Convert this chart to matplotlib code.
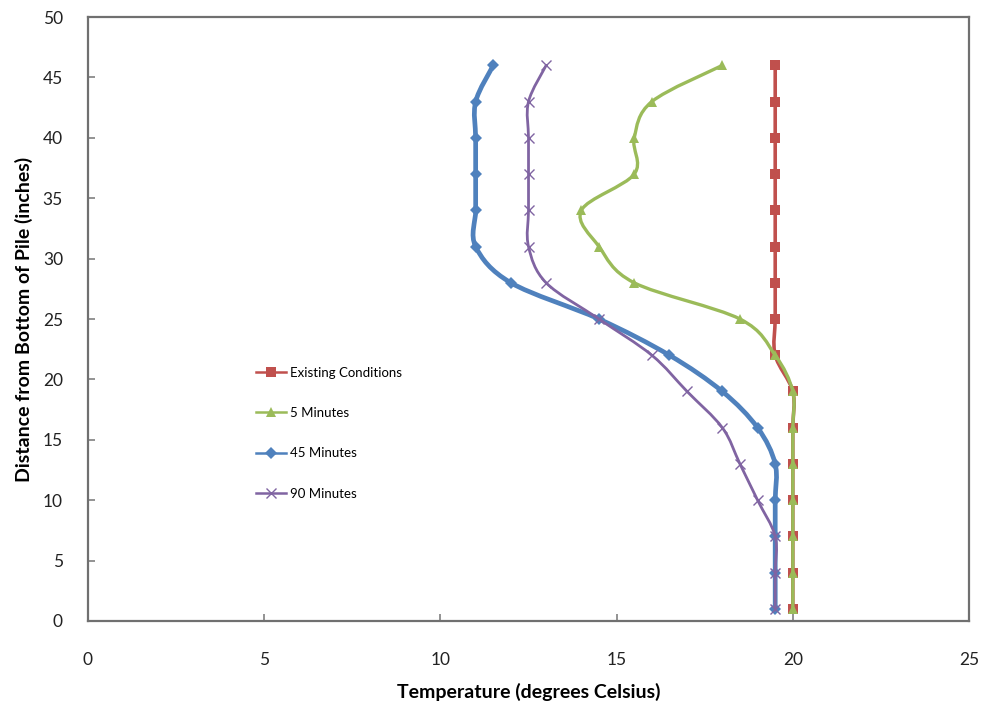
import numpy as np
import matplotlib
matplotlib.use("Agg")
import matplotlib.pyplot as plt
from matplotlib.path import Path
from matplotlib.patches import PathPatch
from matplotlib.lines import Line2D

# distance from bottom of pile (inches)
depth = [1, 4, 7, 10, 13, 16, 19, 22, 25, 28, 31, 34, 37, 40, 43, 46]

# temperatures (degrees C)
existing = [20, 20, 20, 20, 20, 20, 20, 19.5, 19.5, 19.5, 19.5, 19.5, 19.5, 19.5, 19.5, 19.5]
min_5 = [20, 20, 20, 20, 20, 20, 20, 19.5, 18.5, 15.5, 14.5, 14, 15.5, 15.5, 16, 18]
min_45 = [19.5, 19.5, 19.5, 19.5, 19.5, 19, 18, 16.5, 14.5, 12, 11, 11, 11, 11, 11, 11.5]
min_90 = [19.5, 19.5, 19.5, 19, 18.5, 18, 17, 16, 14.5, 13, 12.5, 12.5, 12.5, 12.5, 12.5, 13]

labels = ["Existing Conditions", "5 Minutes", "45 Minutes", "90 Minutes"]
colors = ["#C0504D", "#9BBB59", "#4F81BD", "#8064A2"]
markers = ["s", "^", "D", "x"]
widths = [2.6, 2.4, 3.4, 2.0]
msizes = [6.5, 7, 6, 7]

plt.rcParams['font.family'] = ['Lato', 'DejaVu Sans']


def smooth_path(x, y):
    # excel style smoothed line: catmull-rom segments as cubic beziers
    pts = np.column_stack([x, y]).astype(float)
    verts = [pts[0]]
    codes = [Path.MOVETO]
    n = len(pts)
    for i in range(n - 1):
        p0 = pts[i - 1] if i > 0 else pts[i]
        p1 = pts[i]
        p2 = pts[i + 1]
        p3 = pts[i + 2] if i + 2 < n else pts[i + 1]
        c1 = p1 + (p2 - p0) / 6.0
        c2 = p2 - (p3 - p1) / 6.0
        verts += [c1, c2, p2]
        codes += [Path.CURVE4] * 3
    return Path(verts, codes)


fig = plt.figure(figsize=(9.82, 7.11), dpi=100)
ax = fig.add_axes([0.0896, 0.1266, 0.8972, 0.8494])

series = [existing, min_5, min_45, min_90]
handles = []
for i, vals in enumerate(series):
    z = 2 + i
    patch = PathPatch(smooth_path(vals, depth), facecolor='none', edgecolor=colors[i],
                      lw=widths[i], zorder=z, capstyle='round', joinstyle='round')
    ax.add_patch(patch)
    mk = dict(marker=markers[i], color=colors[i], markersize=msizes[i], linestyle='none', zorder=z)
    if markers[i] == 'x':
        mk['markeredgewidth'] = 1.0
    else:
        mk['markeredgewidth'] = 0
    ax.plot(vals, depth, **mk)
    handles.append(Line2D([], [], lw=1.8, label=labels[i],
                          **{k: v for k, v in mk.items() if k != 'linestyle'}))

ax.set_xlim(0, 25)
ax.set_ylim(0, 50)
ax.set_xticks(range(0, 26, 5))
ax.set_yticks(range(0, 51, 5))
ax.tick_params(direction='in', length=5, width=1.2, color='#808080', labelsize=12.5,
               labelcolor='#222222', top=False, right=False)
ax.tick_params(axis='x', pad=22)
ax.tick_params(axis='y', pad=18)
for s in ax.spines.values():
    s.set_color('#707070')
    s.set_linewidth(1.6)

ax.set_xlabel('Temperature (degrees Celsius)', fontsize=14, fontweight='bold', labelpad=11)
ax.set_ylabel('Distance from Bottom of Pile (inches)', fontsize=14, fontweight='bold', labelpad=7)

leg = ax.legend(handles=handles, loc='upper left', bbox_to_anchor=(0.183, 0.432),
                frameon=False, fontsize=9.5, labelspacing=2.15, handlelength=2.3,
                handletextpad=0.3, borderpad=0)

fig.savefig('out.png', dpi=100)
